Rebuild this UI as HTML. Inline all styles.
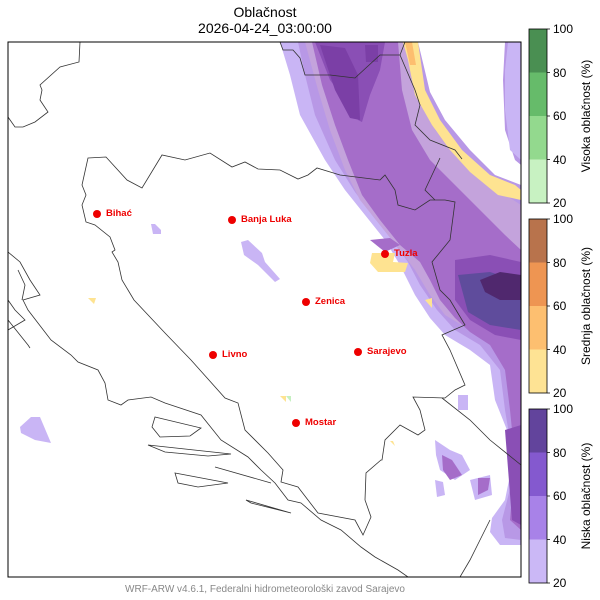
<!DOCTYPE html>
<html><head><meta charset="utf-8"><style>
body{margin:0;background:#fff;}
svg{display:block;font-family:"Liberation Sans","DejaVu Sans",sans-serif;}
</style></head><body>
<svg width="600" height="600" viewBox="0 0 600 600" xmlns="http://www.w3.org/2000/svg">
<rect width="600" height="600" fill="#fff"/>
<text x="265" y="17" font-size="14" text-anchor="middle">Oblačnost</text>
<text x="265" y="33" font-size="14" text-anchor="middle">2026-04-24_03:00:00</text>
<defs><clipPath id="c"><rect x="8" y="42" width="513" height="535"/></clipPath></defs>
<g clip-path="url(#c)">
<path fill="#c9b5f5" d="M280,42 L521,42 L521,545 L500,545 L490,532 L492,518 L505,500 L515,450 L495,400 L490,365 L470,350 L445,335 L430,318 L415,295 L400,265 L385,240 L365,215 L345,190 L325,160 L300,115 L290,75 Z"/>
<path fill="#b898e6" d="M298,42 L521,42 L521,540 L505,538 L502,520 L515,470 L505,410 L500,370 L480,345 L455,330 L437,310 L420,285 L408,262 L392,240 L372,215 L355,192 L335,160 L315,115 L305,75 Z"/>
<path fill="#c4a3dc" d="M305,42 L415,42 L420,90 L435,130 L460,160 L490,185 L521,205 L521,350 L470,330 L445,315 L430,295 L415,270 L400,250 L380,225 L360,200 L345,170 L330,130 L318,90 Z"/>
<path fill="#a56dc9" d="M312,42 L398,42 L402,90 L412,130 L430,160 L455,185 L480,210 L505,235 L521,250 L521,530 L510,520 L515,460 L510,410 L505,370 L490,345 L470,332 L455,318 L440,300 L430,280 L420,262 L400,245 L380,220 L362,195 L348,160 L335,125 L322,85 Z"/>
<path fill="#a56dc9" d="M370,240 L390,238 L400,245 L385,252 Z"/>
<path fill="#8a4fb5" d="M315,42 L385,42 L380,70 L370,95 L362,122 L358,120 L345,100 L330,80 Z"/>
<path fill="#7b3fa6" d="M320,45 L345,48 L358,75 L360,120 L350,118 L335,90 Z"/>
<path fill="#7b3fa6" d="M365,45 L378,45 L378,62 L366,62 Z"/>
<path fill="#8a4fb5" d="M455,260 L490,255 L521,262 L521,340 L495,335 L470,320 L455,300 Z"/>
<path fill="#5f4c9c" d="M458,275 L490,272 L521,282 L521,330 L490,325 L468,312 Z"/>
<path fill="#50286e" d="M480,280 L500,272 L521,275 L521,300 L500,300 L485,292 Z"/>
<path fill="#8a4fb5" d="M505,430 L521,425 L521,525 L512,520 Z"/>
<path fill="#fee391" d="M403,42 L418,42 L425,90 L440,120 L462,150 L490,175 L515,185 L521,190 L521,200 L498,195 L470,172 L450,150 L432,125 L415,95 L408,60 Z"/>
<path fill="#fdbe6f" d="M405,42 L412,42 L416,65 L410,65 Z"/>
<path fill="#fff" d="M418,42 L505,42 L503,80 L505,130 L515,160 L521,165 L521,185 L495,175 L470,150 L445,120 L430,92 Z"/>
<path fill="#c9b5f5" d="M508,42 L521,42 L521,160 L510,150 L505,110 L505,70 Z"/>
<path fill="#fee391" d="M372,253 L395,253 L393,262 L408,263 L405,272 L378,272 L370,263 Z"/>
<path fill="#fee391" d="M425,300 L432,298 L432,308 Z"/>
<path fill="#fee391" d="M88,298 L96,298 L94,304 Z"/>
<path fill="#fee391" d="M280,396 L286,396 L286,402 Z"/>
<path fill="#c5f0c0" d="M286,396 L291,396 L291,402 Z"/>
<path fill="#fee391" d="M390,441 L393,441 L395,446 Z"/>
<path fill="#c9b5f5" d="M151,224 L155,224 L161,230 L161,234 L153,234 Z"/>
<path fill="#c9b5f5" d="M241,242 L248,240 L262,253 L265,262 L280,279 L275,282 L258,265 L244,255 Z"/>
<path fill="#c9b5f5" d="M20,427 L31,417 L40,417 L51,443 L35,440 L21,433 Z"/>
<path fill="#c9b5f5" d="M458,395 L468,395 L468,410 L458,410 Z"/>
<path fill="#c9b5f5" d="M435,440 L450,450 L462,455 L470,470 L455,480 L440,470 L436,455 Z"/>
<path fill="#a56dc9" d="M442,455 L452,460 L462,475 L450,480 L443,470 Z"/>
<path fill="#c9b5f5" d="M470,480 L490,475 L492,495 L475,500 Z"/>
<path fill="#a56dc9" d="M478,478 L490,478 L488,490 L478,495 Z"/>
<path fill="#c9b5f5" d="M435,480 L443,482 L445,495 L437,497 Z"/>
</g>
<g fill="none" stroke="#333" stroke-width="0.8" clip-path="url(#c)">
<path d="M80,42 L79,62 L60,67 L40,85 L42,90 L40,100 L48,112 L35,122 L23,127 L15,127 L8,117"/>
<path d="M280,42 L283,50 L293,50 L300,58 L305,75 L330,75 L355,78 L380,55 L400,55 L405,42"/>
<path d="M400,55 L415,90 L420,105 L415,125 L430,140 L455,150 L462,159"/>
<path d="M88,158 L106,157 L127,180 L142,188 L162,155 L185,160 L210,153 L232,167 L245,162 L258,169 L280,170 L298,179 L308,175 L317,168 L340,175 L380,180 L385,175 L395,190 L398,205 L415,210 L430,200 L445,200 L455,202 L450,240 L432,262 L440,290 L450,300 L465,325 L442,335 L450,350 L465,385 L455,390 L445,398 L413,397 L420,410 L425,430 L418,435 L400,425 L385,440 L382,460 L381,460 L366,473 L365,500 L371,517 L363,535 L355,520 L318,513 L298,487 L281,482 L283,470 L268,453 L245,430 L238,403 L225,398 L191,360 L165,333 L134,300 L122,280 L118,262 L112,252 L115,250 L110,237 L95,225 L86,222 L82,205 L86,195 L82,185 Z"/>
<path d="M440,158 L425,190 L435,200"/>
<path d="M442,398 L470,420 L490,440 L521,465"/>
<path d="M8,252 L20,262 L30,280 L40,295 L23,300 L28,310 L51,340 L71,355 L78,362 L98,370 L105,383 L108,400 L121,405 L128,400 L151,397 L165,403 L201,415 L221,440 L248,457 L261,470 L275,483 L288,500 L301,503 L321,520 L341,530 L361,547 L375,557 L398,570 L408,577"/>
<path d="M8,320 L28,345 L30,348"/>
<path d="M155,417 L201,428 L190,436 L160,437 L152,427 Z"/>
<path d="M148,445 L231,454 L208,456 L165,452 Z"/>
<path d="M175,473 L228,483 L198,487 L178,483 Z"/>
<path d="M246,500 L291,513 L251,503 Z"/>
<path d="M215,467 L271,483"/>
<path d="M8,300 L15,310 L25,320 L8,330"/>
<path d="M18,270 L25,285 L22,300"/>
<path d="M490,520 L480,540 L470,560 L460,577"/>
</g>
<rect x="8" y="42" width="513" height="535" fill="none" stroke="#000" stroke-width="1"/>
<g fill="#e00" font-size="9.5" font-weight="bold">
<circle cx="97" cy="214" r="4"/><text x="106" y="216">Bihać</text>
<circle cx="232" cy="220" r="4"/><text x="241" y="222">Banja Luka</text>
<circle cx="385" cy="254" r="4"/><text x="394" y="256">Tuzla</text>
<circle cx="306" cy="302" r="4"/><text x="315" y="304">Zenica</text>
<circle cx="213" cy="355" r="4"/><text x="222" y="357">Livno</text>
<circle cx="358" cy="352" r="4"/><text x="367" y="354">Sarajevo</text>
<circle cx="296" cy="423" r="4"/><text x="305" y="425">Mostar</text>
</g>
<text x="265" y="592" font-size="10" fill="#888" text-anchor="middle">WRF-ARW v4.6.1, Federalni hidrometeorološki zavod Sarajevo</text>
<g font-size="12">
<rect x="529" y="29" width="18" height="43.5" fill="#4a8f52"/>
<rect x="529" y="72.5" width="18" height="43.5" fill="#66bb6a"/>
<rect x="529" y="116" width="18" height="43.5" fill="#93d98e"/>
<rect x="529" y="159.5" width="18" height="43.5" fill="#c8f2c2"/>
<rect x="529" y="29" width="18" height="174" fill="none" stroke="#000" stroke-width="0.8"/>
<rect x="529" y="219" width="18" height="43.5" fill="#b8734c"/>
<rect x="529" y="262.5" width="18" height="43.5" fill="#ee9552"/>
<rect x="529" y="306" width="18" height="43.5" fill="#fdbf70"/>
<rect x="529" y="349.5" width="18" height="43.5" fill="#fee394"/>
<rect x="529" y="219" width="18" height="174" fill="none" stroke="#000" stroke-width="0.8"/>
<rect x="529" y="409" width="18" height="43.5" fill="#62449c"/>
<rect x="529" y="452.5" width="18" height="43.5" fill="#8459cf"/>
<rect x="529" y="496" width="18" height="43.5" fill="#a882e8"/>
<rect x="529" y="539.5" width="18" height="43.5" fill="#cbb8f6"/>
<rect x="529" y="409" width="18" height="174" fill="none" stroke="#000" stroke-width="0.8"/>
<g stroke="#000" stroke-width="0.8">
<path d="M547,29h3M547,72.5h3M547,116h3M547,159.5h3M547,203h3M547,219h3M547,262.5h3M547,306h3M547,349.5h3M547,393h3M547,409h3M547,452.5h3M547,496h3M547,539.5h3M547,583h3"/>
</g>
<text x="553" y="33">100</text><text x="553" y="77">80</text><text x="553" y="120">60</text><text x="553" y="164">40</text><text x="553" y="207">20</text>
<text x="553" y="223">100</text><text x="553" y="267">80</text><text x="553" y="310">60</text><text x="553" y="354">40</text><text x="553" y="397">20</text>
<text x="553" y="413">100</text><text x="553" y="457">80</text><text x="553" y="500">60</text><text x="553" y="544">40</text><text x="553" y="587">20</text>
<text transform="translate(590,116) rotate(-90)" text-anchor="middle">Visoka oblačnost (%)</text>
<text transform="translate(590,306) rotate(-90)" text-anchor="middle">Srednja oblačnost (%)</text>
<text transform="translate(590,496) rotate(-90)" text-anchor="middle">Niska oblačnost (%)</text>
</g>
</svg>
</body></html>
